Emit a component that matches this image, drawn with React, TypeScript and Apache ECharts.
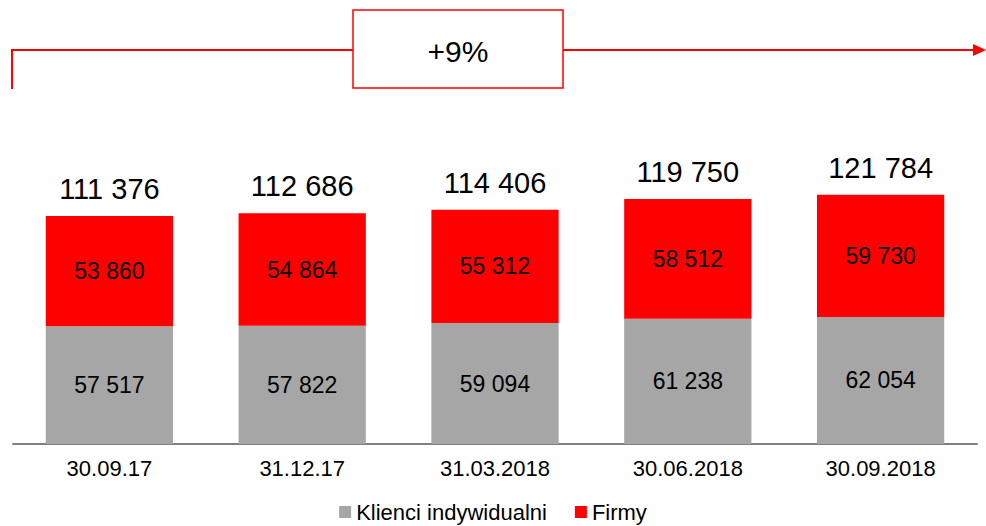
import React, { useEffect, useRef } from "react";
import * as echarts from "echarts";

const categories = ["30.09.17", "31.12.17", "31.03.2018", "30.06.2018", "30.09.2018"];
const individual = [57517, 57822, 59094, 61238, 62054];
const firms = [53860, 54864, 55312, 58512, 59730];
const totals = [111376, 112686, 114406, 119750, 121784];
const growthLabel = "+9%";

const fmt = (v: number) => String(v).replace(/\B(?=(\d{3})+(?!\d))/g, " ");

const FONT = "Liberation Sans, Arial, sans-serif";

export default function App() {
  const ref = useRef<HTMLDivElement>(null);
  useEffect(() => {
    const chart = echarts.init(ref.current!, null, { renderer: "svg" });
    chart.setOption({
      animation: false,
      textStyle: { fontFamily: FONT },
      grid: { left: 13, right: 9, top: 137, bottom: 82, containLabel: false },
      legend: {
        top: 501,
        left: "center",
        padding: 0,
        itemWidth: 12,
        itemHeight: 12,
        itemGap: 28,
        icon: "rect",
        textStyle: { fontSize: 22, lineHeight: 22, color: "#000", fontFamily: FONT },
        data: ["Klienci indywidualni", "Firmy"],
      },
      xAxis: {
        type: "category",
        data: categories,
        axisLine: { lineStyle: { color: "#808080", width: 2 } },
        axisTick: { show: false },
        axisLabel: { fontSize: 22, color: "#000", margin: 13, fontFamily: FONT },
      },
      yAxis: { type: "value", min: 0, max: 150000, show: false, splitLine: { show: false } },
      series: [
        {
          name: "Klienci indywidualni",
          type: "bar",
          stack: "s",
          barWidth: "66%",
          data: individual,
          itemStyle: { color: "#A6A6A6" },
          label: { show: true, position: "inside", fontSize: 23, color: "#000", fontFamily: FONT, formatter: (p: any) => fmt(p.value) },
        },
        {
          name: "Firmy",
          type: "bar",
          stack: "s",
          data: firms,
          itemStyle: { color: "#FF0000" },
          label: { show: true, position: "inside", fontSize: 23, color: "#000", fontFamily: FONT, formatter: (p: any) => fmt(p.value) },
        },
        {
          name: "total",
          type: "line",
          data: totals,
          symbol: "circle",
          symbolSize: 1,
          itemStyle: { opacity: 0 },
          lineStyle: { opacity: 0 },
          label: { show: true, position: "top", distance: 12, fontSize: 29, color: "#000", fontFamily: FONT, opacity: 1, formatter: (p: any) => fmt(p.value) },
          silent: true,
        },
      ],
      graphic: [
        {
          type: "polyline",
          shape: { points: [[12, 89], [12, 50], [353, 50]] },
          style: { stroke: "#FF0000", lineWidth: 2, fill: null },
        },
        {
          type: "line",
          shape: { x1: 563, y1: 50, x2: 975, y2: 50 },
          style: { stroke: "#FF0000", lineWidth: 2 },
        },
        {
          type: "polygon",
          shape: { points: [[973, 44], [986, 50], [973, 56]] },
          style: { fill: "#FF0000" },
        },
        {
          type: "rect",
          shape: { x: 353, y: 10, width: 210, height: 78 },
          style: { stroke: "#FF0000", lineWidth: 1.5, fill: "#fff" },
        },
        {
          type: "text",
          x: 458,
          y: 51,
          style: { text: growthLabel, fontSize: 30, fill: "#000", fontFamily: FONT, align: "center", verticalAlign: "middle" },
        },
      ],
    });
    return () => chart.dispose();
  }, []);
  return <div ref={ref} style={{ width: 986, height: 526, position: "absolute", left: 0, top: 0 }} />;
}
